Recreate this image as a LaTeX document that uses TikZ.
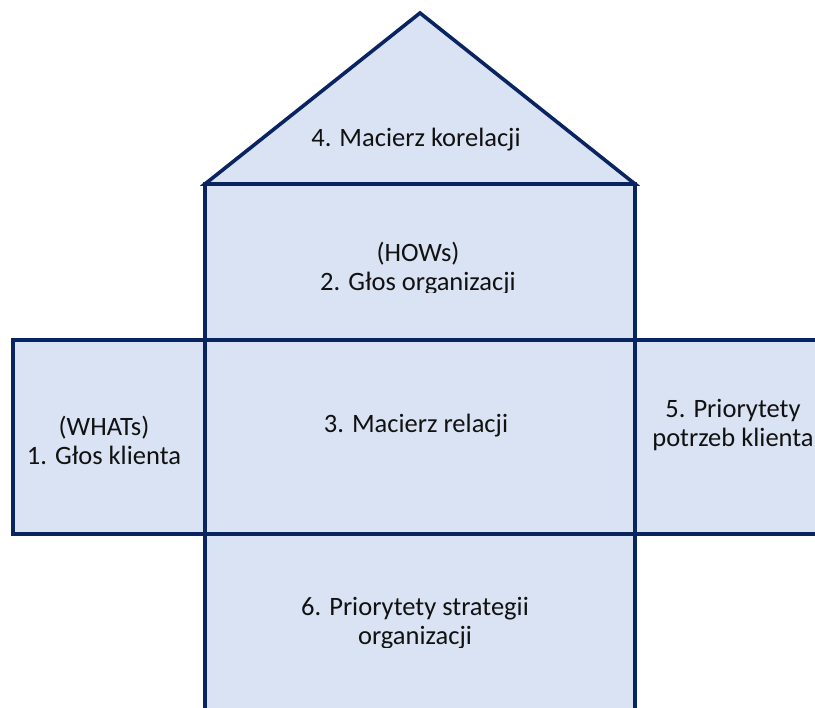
\documentclass[tikz,border=0pt]{standalone}
\usepackage{fontspec}
\setmainfont{Carlito}
\definecolor{panelfill}{HTML}{DAE3F3}
\definecolor{panelline}{HTML}{0A2462}
\definecolor{labeltext}{HTML}{111111}
\tikzset{
  panel/.style={fill=panelfill, draw=panelline, line width=3.6pt, line join=miter},
  label/.style={text=labeltext, align=center, inner sep=0pt, anchor=base,
    font=\fontsize{26.5pt}{29.5pt}\selectfont}
}
\begin{document}
\begin{tikzpicture}[x=1pt,y=-1pt]
  \clip (0,0) rectangle (815,708);
  % House of quality panels
  \draw[panel] (205,184) -- (420,13) -- (635,184) -- cycle;
  \draw[panel] (205,184) rectangle (635,340);
  \draw[panel] (13,340) rectangle (205,534);
  \draw[panel] (205,340) rectangle (635,534);
  \draw[panel] (635,340) rectangle (827,534);
  \draw[panel] (205,534) rectangle (635,740);
  % Labels (positions are last-line baselines)
  \node[label] (roof) at (416,147) {4. Macierz korelacji};
  \begin{scope}
    \clip (205,184) rectangle (635,293);
    \node[label] (hows) at (418,291) {(HOWs)\\2. Głos organizacji};
  \end{scope}
  \node[label] (whats) at (104,465) {(WHATs)\\1. Głos klienta};
  \node[label] (matrix) at (416,433) {3. Macierz relacji};
  \node[label] (needs) at (733,447) {5. Priorytety\\potrzeb klienta};
  \begin{scope}
    \clip (205,534) rectangle (635,648);
    \node[label] (strategy) at (415,645) {6. Priorytety strategii\\organizacji};
  \end{scope}
\end{tikzpicture}
\end{document}
